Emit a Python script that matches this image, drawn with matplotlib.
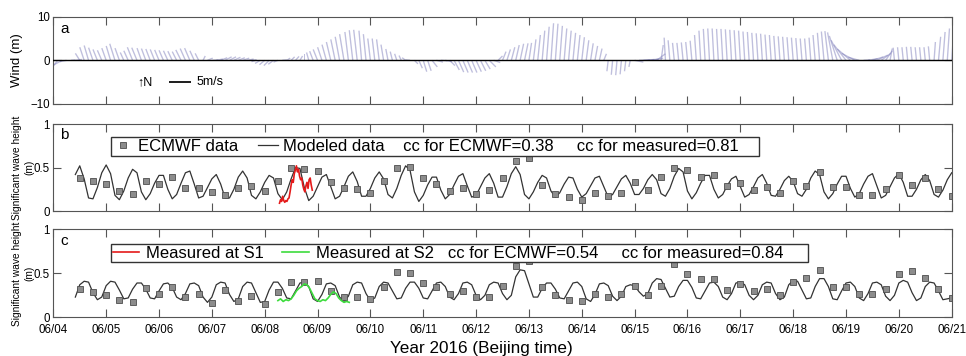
import numpy as np
import matplotlib.pyplot as plt
from matplotlib.lines import Line2D

plt.rcParams['font.family'] = ['Liberation Sans', 'DejaVu Sans']

# x axis: days since 06/04 00:00 (Beijing time)
day_labels = ['06/04', '06/05', '06/06', '06/07', '06/08', '06/09', '06/10', '06/11', '06/12',
              '06/13', '06/14', '06/15', '06/16', '06/17', '06/18', '06/19', '06/20', '06/21']

# wind sticks, every 2 h from 06/04 00:00 (m/s)
wind_v = [
    -3.5, -2.5, -1.2, -0.3, 0.1, 0.2, 1.6, 3.0, 3.4, 2.9, 2.5, 2.3,
    2.8, 3.3, 3.8, 2.8, 1.8, 2.2, 3.0, 2.9, 2.8, 2.7, 2.6, 2.5,
    2.4, 2.3, 2.2, 2.1, 2.0, 2.4, 2.7, 2.8, 2.2, 1.6, 1.0, 0.5,
    0.1, 0.3, 0.6, 0.8, 0.8, 0.7, 0.6, 0.5, 0.3, 0.1, -0.3, -0.7,
    -1.0, -1.2, -0.9, -0.4, 0.1, 0.5, 0.8, 0.9, 1.0, 1.4, 1.8, 2.1,
    2.5, 3.0, 3.6, 4.2, 4.8, 5.4, 6.0, 6.5, 6.9, 7.0, 6.8, 6.0,
    5.0, 5.0, 4.8, 3.6, 2.6, 2.0, 1.5, 1.1, 0.6, 0.1, -0.8, -1.8,
    -2.6, -2.4, -1.5, -0.4, -0.1, -0.3, -1.2, -2.2, -2.7, -2.8, -2.8, -2.8,
    -2.6, -2.4, -2.0, -1.5, -0.5, 1.0, 2.0, 2.5, 3.0, 3.5, 3.8, 3.9,
    4.0, 4.8, 5.8, 6.8, 7.7, 8.5, 8.4, 7.9, 7.3, 6.8, 6.3, 5.8,
    5.3, 4.6, 3.9, 3.3, 2.7, 1.5, -2.5, -3.3, -3.4, -3.2, -2.5, -1.5,
    -0.4, 0.1, 0.2, 0.3, 0.5, 1.5, 3.5, 5.2, 4.6, 4.0, 4.0, 4.1,
    4.2, 4.5, 5.8, 6.8, 7.2, 7.3, 7.3, 7.2, 7.2, 7.1, 7.0, 6.9,
    6.8, 6.6, 6.5, 6.3, 6.2, 6.1, 5.9, 5.8, 5.6, 5.5, 5.4, 5.3,
    5.2, 5.1, 5.0, 5.0, 5.2, 5.8, 6.3, 6.6, 6.7, 6.4, 5.6, 4.6,
    3.6, 2.6, 1.6, 0.7, 0.1, 0.4, 0.8, 1.2, 1.6, 2.2, 2.7, 2.9,
    3.0, 3.0, 3.1, 3.1, 3.0, 3.0, 3.0, 3.2, 4.2, 5.4, 6.5, 7.3,
    7.5]
wind_u = [
    -1.5, -2.0, -2.2, -1.5, 1.0, 1.5, -1.0, -1.0, -1.0, -1.0, -1.0, -1.0,
    -1.0, -1.0, -1.2, -1.0, -0.8, -1.0, -1.2, -1.2, -1.0, -1.0, -1.0, -1.0,
    -1.0, -1.0, -1.0, -1.0, -1.0, -1.2, -1.2, -1.2, -1.0, -0.8, 0.5, 1.2,
    1.5, 1.5, 1.5, 1.5, 1.5, 1.5, 1.5, 1.5, 1.5, 1.2, -1.0, -1.2,
    -1.2, -1.2, -1.2, -1.0, 1.0, 0.8, 0.8, 0.8, 0.6, 0.0, -0.5, -0.8,
    -1.0, -1.0, -1.0, -1.0, -1.0, -1.0, -1.0, -0.8, -0.8, -0.8, -0.6, -0.6,
    -0.6, -0.6, -0.6, -0.6, -0.5, -0.5, -0.5, -0.5, -0.8, -1.0, 0.8, 0.8,
    0.8, 0.8, 1.2, 1.5, 1.5, 1.5, 1.2, 1.2, 1.2, 1.2, 1.2, 1.2,
    1.2, 1.2, 1.2, 1.5, 1.5, 1.0, 0.8, 0.8, 0.8, 0.8, 0.8, 0.8,
    0.6, 0.6, 0.6, 0.6, 0.6, 0.6, 0.6, 0.6, 0.6, 0.6, 0.6, 0.6,
    0.6, 0.6, 0.6, 0.6, 0.6, 0.6, -0.3, -0.3, -0.3, -0.3, -0.3, -0.3,
    2.0, 2.5, 2.5, 2.5, 2.5, 2.0, 0.5, -0.3, -0.4, -0.4, -0.4, -0.4,
    -0.4, -0.4, -0.4, -0.4, -0.4, -0.4, -0.4, -0.4, -0.4, -0.4, -0.4, -0.4,
    -0.4, -0.4, -0.4, -0.4, -0.4, -0.4, -0.4, -0.4, -0.4, -0.4, -0.4, -0.4,
    -0.4, -0.4, -0.4, -0.4, -0.4, -0.5, -0.5, -0.6, -0.8, -1.2, -1.8, -2.4,
    -2.8, -3.0, -3.0, -2.5, 1.5, 2.2, 2.5, 2.5, 2.2, 1.5, 0.5, -0.3,
    -0.3, -0.3, -0.3, -0.3, -0.3, -0.3, -0.3, -0.3, 0.3, 0.5, 0.5, 0.5,
    0.5]

# modeled significant wave height (m), every 2 h from 06/04 10:00
model_b = [
    0.42,
    0.52, 0.37, 0.15, 0.14, 0.27, 0.44, 0.53, 0.43, 0.18, 0.13, 0.23, 0.38, 0.48,
    0.44, 0.22, 0.13, 0.20, 0.32, 0.41, 0.41, 0.25, 0.14, 0.19, 0.32, 0.44,
    0.46, 0.31, 0.15, 0.17, 0.27, 0.37,
    0.42, 0.31, 0.15, 0.15, 0.25, 0.39, 0.46, 0.38, 0.18, 0.14, 0.22, 0.33, 0.41,
    0.38, 0.20, 0.13, 0.22, 0.37, 0.50, 0.49, 0.27, 0.12, 0.17, 0.28, 0.39,
    0.42, 0.28, 0.14, 0.17, 0.28, 0.40,
    0.45, 0.34, 0.17, 0.17, 0.26, 0.38, 0.45, 0.37, 0.19, 0.15, 0.26, 0.41, 0.52,
    0.47, 0.22, 0.11, 0.18, 0.30, 0.39, 0.39, 0.24, 0.14, 0.19, 0.30, 0.40,
    0.43, 0.29, 0.16, 0.18, 0.28, 0.38,
    0.43, 0.32, 0.16, 0.16, 0.28, 0.43, 0.51, 0.42, 0.19, 0.14, 0.22, 0.33, 0.41,
    0.38, 0.23, 0.16, 0.21, 0.31, 0.39, 0.38, 0.25, 0.16, 0.20, 0.29, 0.38,
    0.40, 0.28, 0.16, 0.19, 0.28, 0.37,
    0.41, 0.32, 0.19, 0.19, 0.26, 0.36, 0.42, 0.36, 0.20, 0.17, 0.26, 0.40, 0.49,
    0.45, 0.23, 0.14, 0.21, 0.32, 0.41, 0.41, 0.25, 0.15, 0.19, 0.29, 0.37,
    0.40, 0.28, 0.16, 0.19, 0.28, 0.38,
    0.42, 0.32, 0.18, 0.17, 0.25, 0.35, 0.40, 0.34, 0.20, 0.17, 0.25, 0.38, 0.46,
    0.42, 0.22, 0.14, 0.20, 0.31, 0.40, 0.40, 0.26, 0.16, 0.20, 0.31, 0.40,
    0.43, 0.29, 0.15, 0.18, 0.28, 0.38,
    0.43, 0.33, 0.17, 0.17, 0.25, 0.36, 0.42, 0.35, 0.19, 0.16, 0.24, 0.36, 0.44]
model_c = [
    0.23, 0.37,
    0.41, 0.40, 0.28, 0.20, 0.23, 0.36, 0.41, 0.40, 0.31, 0.21, 0.22, 0.32, 0.39,
    0.39, 0.32, 0.22, 0.21, 0.30, 0.38, 0.39, 0.34, 0.23, 0.20, 0.27, 0.38,
    0.39, 0.36, 0.23, 0.17, 0.23, 0.37,
    0.40, 0.39, 0.26, 0.18, 0.21, 0.35, 0.40, 0.39, 0.28, 0.17, 0.18, 0.31, 0.40,
    0.40, 0.33, 0.22, 0.21, 0.30, 0.39, 0.40, 0.35, 0.21, 0.18, 0.26, 0.38,
    0.39, 0.36, 0.23, 0.18, 0.24, 0.37,
    0.40, 0.39, 0.27, 0.19, 0.22, 0.35, 0.40, 0.39, 0.30, 0.21, 0.22, 0.33, 0.40,
    0.40, 0.33, 0.22, 0.21, 0.30, 0.39, 0.40, 0.35, 0.23, 0.20, 0.27, 0.39,
    0.40, 0.37, 0.25, 0.20, 0.25, 0.37,
    0.40, 0.39, 0.27, 0.20, 0.25, 0.46, 0.54, 0.53, 0.38, 0.23, 0.23, 0.33, 0.39,
    0.39, 0.32, 0.22, 0.21, 0.30, 0.39, 0.40, 0.35, 0.21, 0.18, 0.26, 0.38,
    0.39, 0.36, 0.24, 0.19, 0.24, 0.35,
    0.37, 0.36, 0.29, 0.24, 0.27, 0.39, 0.44, 0.43, 0.33, 0.23, 0.24, 0.35, 0.42,
    0.42, 0.34, 0.22, 0.21, 0.30, 0.39, 0.40, 0.35, 0.23, 0.20, 0.27, 0.39,
    0.40, 0.37, 0.25, 0.20, 0.25, 0.37,
    0.40, 0.39, 0.27, 0.20, 0.23, 0.37, 0.42, 0.41, 0.31, 0.21, 0.22, 0.35, 0.44,
    0.44, 0.35, 0.21, 0.20, 0.30, 0.39, 0.40, 0.35, 0.22, 0.19, 0.27, 0.39,
    0.40, 0.37, 0.24, 0.19, 0.25, 0.39,
    0.42, 0.40, 0.28, 0.19, 0.22, 0.35, 0.40, 0.39, 0.30, 0.20, 0.21, 0.22]

# ECMWF wave height (m), every 6 h from 06/04 12:00
ecmwf_b = [0.38, 0.34, 0.31, 0.23, 0.20, 0.35, 0.31, 0.39, 0.27, 0.27, 0.22, 0.18,
           0.27, 0.29, 0.23, 0.34, 0.50, 0.48, 0.46, 0.33, 0.27, 0.25, 0.21, 0.35,
           0.50, 0.51, 0.38, 0.31, 0.23, 0.27, 0.20, 0.24, 0.38, 0.58, 0.61, 0.30,
           0.19, 0.16, 0.13, 0.21, 0.17, 0.21, 0.33, 0.24, 0.39, 0.50, 0.47, 0.39,
           0.41, 0.29, 0.32, 0.24, 0.28, 0.21, 0.35, 0.29, 0.45, 0.28, 0.28, 0.18,
           0.18, 0.25, 0.41, 0.30, 0.38, 0.25, 0.17]
ecmwf_c = [0.32, 0.29, 0.25, 0.20, 0.17, 0.33, 0.26, 0.34, 0.23, 0.27, 0.16, 0.31,
           0.19, 0.24, 0.15, 0.29, 0.40, 0.40, 0.41, 0.30, 0.23, 0.23, 0.21, 0.35,
           0.51, 0.50, 0.39, 0.34, 0.27, 0.30, 0.23, 0.23, 0.36, 0.58, 0.64, 0.34,
           0.25, 0.20, 0.18, 0.27, 0.23, 0.27, 0.36, 0.25, 0.36, 0.61, 0.49, 0.43,
           0.43, 0.31, 0.38, 0.30, 0.32, 0.25, 0.40, 0.45, 0.54, 0.34, 0.34, 0.26,
           0.26, 0.32, 0.49, 0.53, 0.45, 0.32, 0.22]

# measured wave height at S1 and S2
s1_day = [4.28, 4.30, 4.32, 4.34, 4.36, 4.38, 4.40, 4.42, 4.44, 4.46, 4.48, 4.50,
          4.52, 4.54, 4.56, 4.58, 4.60, 4.62, 4.64, 4.66, 4.68, 4.70, 4.72, 4.74,
          4.76, 4.78, 4.80, 4.82, 4.84, 4.86, 4.88, 4.90]
s1_hs = [0.09, 0.13, 0.11, 0.17, 0.12, 0.10, 0.12, 0.11, 0.14, 0.15, 0.22, 0.30,
         0.36, 0.33, 0.43, 0.47, 0.52, 0.45, 0.48, 0.40, 0.36, 0.38, 0.30, 0.25,
         0.22, 0.29, 0.33, 0.26, 0.36, 0.38, 0.30, 0.24]
s2_day = [4.25, 4.30, 4.35, 4.40, 4.45, 4.50, 4.55, 4.60, 4.65, 4.70, 4.75, 4.80,
          4.85, 4.90, 4.95, 5.00, 5.05, 5.10, 5.15, 5.20, 5.25, 5.30, 5.35, 5.40,
          5.45, 5.50, 5.55, 5.60]
s2_hs = [0.19, 0.21, 0.18, 0.20, 0.19, 0.21, 0.25, 0.30, 0.33, 0.35, 0.38, 0.37,
         0.33, 0.27, 0.21, 0.19, 0.18, 0.20, 0.19, 0.22, 0.26, 0.29, 0.27, 0.22,
         0.19, 0.17, 0.18, 0.17]

wind_t = np.arange(len(wind_v)) / 12.0
model_tb = (10 + 2 * np.arange(len(model_b))) / 24.0
model_tc = (10 + 2 * np.arange(len(model_c))) / 24.0
ecmwf_t = 0.5 + 0.25 * np.arange(len(ecmwf_b))

fig = plt.figure(figsize=(9.66, 3.56), dpi=100)
ax_a = fig.add_axes([0.0552, 0.7079, 0.930, 0.2452])
ax_b = fig.add_axes([0.0552, 0.4073, 0.930, 0.2440])
ax_c = fig.add_axes([0.0552, 0.1087, 0.930, 0.2470])

frame = '#555555'
for ax in (ax_a, ax_b, ax_c):
    ax.set_xlim(0, 17)
    ax.set_xticks(np.arange(len(day_labels)))
    ax.tick_params(direction='in', top=True, right=True, length=5.5, width=0.8,
                   color=frame, labelsize=8.3, pad=2.5)
    for s in ax.spines.values():
        s.set_color(frame)
        s.set_linewidth(0.8)
ax_a.set_xticklabels([])
ax_b.set_xticklabels([])
ax_c.set_xticklabels(day_labels)
ax_c.tick_params(axis='x', pad=4.5)

# panel a: wind stick plot
ax_a.axhline(0, color='k', lw=1.0, zorder=3)
Q = ax_a.quiver(wind_t, np.zeros(len(wind_t)), wind_u, wind_v, angles='uv',
                scale_units='y', scale=1, headwidth=0, headlength=0, headaxislength=0,
                minlength=0, width=0.0015, color='#8080bc', alpha=0.5, pivot='tail')
ax_a.quiverkey(Q, 0.153, 0.25, 5, '5m/s', labelpos='E', coordinates='axes',
               color='#222222', labelsep=0.06, fontproperties={'size': 9},
               alpha=1, linewidth=0)
ax_a.text(0.094, 0.25, '\u2191N', transform=ax_a.transAxes, va='center', fontsize=9)
ax_a.set_ylim(-10, 10)
ax_a.set_yticks([-10, 0, 10])
ax_a.set_ylabel('Wind (m)', fontsize=9.5)
ax_a.yaxis.set_label_coords(-0.034, 0.5)
ax_a.text(0.008, 0.86, 'a', transform=ax_a.transAxes, va='center', fontsize=11)

# panel b
ax_b.plot(model_tb, model_b, color='#333333', lw=0.9)
ax_b.plot(ecmwf_t, ecmwf_b, ls='none', marker='s', ms=4.2, mfc='#8c8c8c', mec='#4d4d4d', mew=0.6)
ax_b.plot(s1_day, s1_hs, color='#e41a1a', lw=1.2)
hb = [Line2D([], [], ls='none', marker='s', ms=4.2, mfc='#8c8c8c', mec='#4d4d4d', mew=0.6),
      Line2D([], [], color='#333333', lw=0.9)]
ax_b.legend(hb, ['ECMWF data', 'Modeled data    cc for ECMWF=0.38     cc for measured=0.81    '],
            ncol=2, loc='upper left', bbox_to_anchor=(0.0642, 0.847), borderaxespad=0,
            fontsize=12, handlelength=1.2, handletextpad=0.3, columnspacing=1.2,
            borderpad=0.1, fancybox=False, framealpha=1, edgecolor='#333333')
ax_b.set_ylim(0, 1)
ax_b.set_yticks([0, 0.5, 1])
ax_b.set_yticklabels(['0', '0.5', '1'])
ax_b.set_ylabel('Significant wave height\n(m)', fontsize=7.3)
ax_b.yaxis.set_label_coords(-0.0215, 0.5)
ax_b.text(0.008, 0.87, 'b', transform=ax_b.transAxes, va='center', fontsize=11)

# panel c
ax_c.plot(model_tc, model_c, color='#333333', lw=0.9)
ax_c.plot(ecmwf_t, ecmwf_c, ls='none', marker='s', ms=4.2, mfc='#8c8c8c', mec='#4d4d4d', mew=0.6)
ax_c.plot(s2_day, s2_hs, color='#3ddc3d', lw=1.2)
hc = [Line2D([], [], color='#e41a1a', lw=1.2), Line2D([], [], color='#3ddc3d', lw=1.2)]
ax_c.legend(hc, ['Measured at S1', 'Measured at S2   cc for ECMWF=0.54     cc for measured=0.84     '],
            ncol=2, loc='upper left', bbox_to_anchor=(0.0642, 0.833), borderaxespad=0,
            fontsize=12, handlelength=1.6, handletextpad=0.4, columnspacing=1.1,
            borderpad=0.1, fancybox=False, framealpha=1, edgecolor='#333333')
ax_c.set_ylim(0, 1)
ax_c.set_yticks([0, 0.5, 1])
ax_c.set_yticklabels(['0', '0.5', '1'])
ax_c.set_ylabel('Significant wave height\n(m)', fontsize=7.3)
ax_c.yaxis.set_label_coords(-0.0215, 0.5)
ax_c.text(0.008, 0.87, 'c', transform=ax_c.transAxes, va='center', fontsize=11)
ax_c.set_xlabel('Year 2016 (Beijing time)', fontsize=12.3)
ax_c.xaxis.set_label_coords(0.4766, -0.27)

fig.savefig('out.png', dpi=100)
